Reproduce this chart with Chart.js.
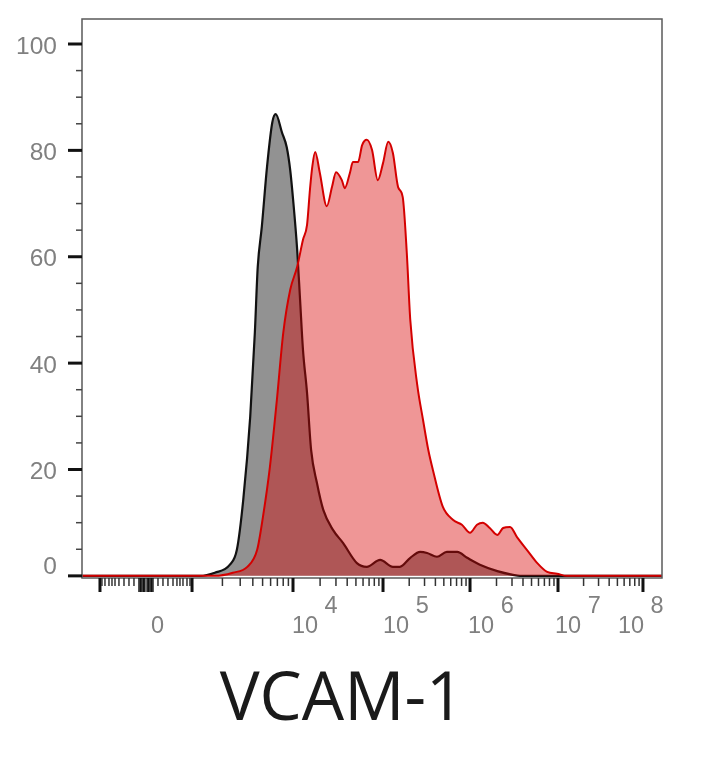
<!DOCTYPE html>
<html lang="en">
<head>
<meta charset="UTF-8">
<title>VCAM-1</title>
<script src="https://cdn.jsdelivr.net/npm/chart.js"></script>
<style>
    html, body { margin: 0; padding: 0; background: #fff; }
</style>
</head>
<body>
<canvas id="histChart" width="711" height="768"></canvas>
<script>
    // x: display channel (0..1000 across the plot), y: % of mode
    const isoX = [0, 203, 229, 255, 267, 278, 290, 298, 303, 310, 319, 328, 334, 345, 353, 359, 364, 371, 376, 381,
        388, 395, 405, 416, 433, 450, 474, 491, 514, 536, 548, 566, 583, 595, 612, 629, 647, 664, 686, 716, 743, 755, 1000];
    const isoY = [0, 0, 0.6, 2.1, 4.9, 14.3, 29.9, 45.7, 58.1, 65.6, 76.9, 85.2, 86.8, 83.3, 80.6, 76.3, 70.7, 61.3, 51.9, 42.5,
        34.4, 23.7, 17.5, 12.4, 8.6, 6.2, 2.4, 1.7, 3.0, 1.7, 1.7, 3.4, 4.5, 4.3, 3.6, 4.5, 4.5, 3.4, 2.1, 0.9, 0.2, 0, 0];

    const vcamX = [0, 229, 260, 285, 302, 312, 324, 336, 347, 359, 371, 381, 388, 393, 397, 402, 410, 422, 431, 438,
        448, 453, 462, 467, 476, 483, 491, 500, 510, 519, 528, 536, 545, 553, 560, 566, 578, 588, 597, 605,
        622, 640, 655, 669, 681, 691, 703, 716, 726, 738, 750, 767, 785, 802, 819, 836, 1000];
    const vcamY = [0, 0, 0.6, 1.7, 4.9, 11.1, 20.5, 33.1, 45.7, 53.8, 58.1, 63.2, 66.0, 72.6, 76.9, 79.7, 75.8, 69.5, 73.1, 75.9,
        74.4, 72.9, 75.8, 77.8, 77.8, 81.0, 82.0, 80.1, 74.4, 77.6, 81.6, 79.5, 73.1, 71.2, 60.7, 48.1, 35.9, 29.3, 23.7, 19.9,
        13.0, 10.5, 9.6, 8.1, 9.6, 10.0, 9.0, 7.7, 9.0, 9.2, 7.3, 4.9, 2.4, 0.75, 0.4, 0, 0];

    // y axis
    const yLabelTicks = [0, 20, 40, 60, 80, 100];
    const yMinorStep = 5;
    const zeroLabelLift = 2.2;   // the "0" sits a bit above the axis in the source

    // biex x axis: -10^3, 0, 10^3, 10^4 ... 10^8 in display channels
    const xDecadeAt = [31.0, 110.3, 189.7, 363.8, 519.0, 669.0, 820.7, 967.2];
    const zeroCluster = [2, 4.5, 7, 9.5, 12];
    const nearZero = [20.7, 29.3, 37.9, 46.6, 53.4, 58.6, 63.8, 70.7, 75.9];
    const xLabelAt = [119, 362, 519, 665.5, 815.5, 924];
    const xLabelText = [['', '0'], ['     4', '10'], ['     5', '10'], ['     6', '10'], ['     7', '10'], ['     8', '10']];

    function xTickMarks() {
        const zero = xDecadeAt[1];
        const marks = [];
        xDecadeAt.forEach((v, i) => { if (i !== 1) marks.push({ v, major: true }); });
        zeroCluster.forEach(d => {
            marks.push({ v: zero - d, cluster: true });
            marks.push({ v: zero + d, cluster: true });
        });
        nearZero.forEach(d => {
            marks.push({ v: zero - d });
            marks.push({ v: zero + d });
        });
        for (let i = 2; i < xDecadeAt.length - 1; i++) {
            const a = xDecadeAt[i], b = xDecadeAt[i + 1];
            for (let k = 2; k <= 9; k++) marks.push({ v: a + (b - a) * Math.log10(k) });
        }
        return marks;
    }

    const axisDecor = {
        id: 'axisDecor',
        afterDraw(chart) {
            const { ctx, chartArea: a } = chart;
            const x = chart.scales.x, y = chart.scales.y;
            ctx.save();
            ctx.strokeStyle = '#5a5a5a';
            ctx.lineWidth = 1.5;
            ctx.strokeRect(a.left, a.top, a.right - a.left, a.bottom - a.top);

            for (let v = 0; v <= 100; v += yMinorStep) {
                const major = v % 20 === 0;
                const py = y.getPixelForValue(v);
                ctx.beginPath();
                ctx.strokeStyle = major ? '#111' : '#444';
                ctx.lineWidth = major ? 3 : 1.5;
                ctx.moveTo(a.left, py);
                ctx.lineTo(a.left - (major ? 14 : 6), py);
                ctx.stroke();
            }

            xTickMarks().forEach(m => {
                const px = x.getPixelForValue(m.v);
                ctx.beginPath();
                ctx.strokeStyle = m.major || m.cluster ? '#111' : '#333';
                ctx.lineWidth = m.major ? 3 : 1.5;
                ctx.moveTo(px, a.bottom);
                ctx.lineTo(px, a.bottom + (m.major || m.cluster ? 14 : 8));
                ctx.stroke();
            });
            ctx.restore();
        }
    };

    // invisible tick marks only used to push the labels away from the axis
    const hiddenGrid = (len) => ({
        display: true,
        drawOnChartArea: false,
        drawTicks: true,
        tickLength: len,
        color: 'rgba(0,0,0,0)',
        tickColor: 'rgba(0,0,0,0)'
    });

    new Chart(document.getElementById('histChart'), {
        type: 'line',
        data: {
            datasets: [
                {
                    label: 'VCAM-1',
                    data: vcamX.map((v, i) => ({ x: v, y: vcamY[i] })),
                    borderColor: '#d40000',
                    backgroundColor: 'rgba(218, 4, 4, 0.42)',
                    borderWidth: 2,
                    fill: 'origin',
                    pointRadius: 0,
                    cubicInterpolationMode: 'monotone'
                },
                {
                    label: 'Isotype',
                    data: isoX.map((v, i) => ({ x: v, y: isoY[i] })),
                    borderColor: '#111',
                    backgroundColor: 'rgb(146, 146, 146)',
                    borderWidth: 2.2,
                    fill: 'origin',
                    pointRadius: 0,
                    cubicInterpolationMode: 'monotone'
                }
            ]
        },
        options: {
            responsive: false,
            animation: false,
            layout: { padding: { left: 0, right: 27, top: 19, bottom: 27 } },
            plugins: {
                legend: { display: false },
                tooltip: { enabled: false },
                title: {
                    display: true,
                    text: 'VCAM-1',
                    position: 'bottom',
                    color: '#1a1a1a',
                    padding: 0,
                    font: { family: 'Open Sans', size: 67, weight: 'normal', lineHeight: 1.2 }
                }
            },
            scales: {
                x: {
                    type: 'linear',
                    min: 0,
                    max: 1000,
                    afterBuildTicks: s => { s.ticks = xLabelAt.map(v => ({ value: v })); },
                    afterFit: s => { s.height = 82.6; },
                    grid: { display: false, drawTicks: false },
                    border: { display: false },
                    ticks: {
                        autoSkip: false,
                        maxRotation: 0,
                        minRotation: 0,
                        align: 'start',
                        padding: 18,
                        color: '#808080',
                        font: { family: 'Liberation Sans', size: 23.5, lineHeight: 0.87 },
                        callback: (val, i) => xLabelText[i]
                    }
                },
                y: {
                    min: -0.4,
                    max: 104.7,
                    afterBuildTicks: s => {
                        s.ticks = yLabelTicks.map(v => ({ value: v === 0 ? v + zeroLabelLift : v }));
                    },
                    afterFit: s => { s.width = 82; },
                    grid: hiddenGrid(25),
                    border: { display: false },
                    ticks: {
                        padding: 0,
                        labelOffset: 3,
                        color: '#808080',
                        font: { family: 'Liberation Sans', size: 24.5 },
                        callback: (val, i) => String(yLabelTicks[i])
                    }
                },
                // empty spacer on the right so the bottom title lines up with the source
                yRight: {
                    position: 'right',
                    display: true,
                    afterFit: s => { s.width = 22; },
                    grid: { display: false },
                    border: { display: false },
                    ticks: { display: false }
                }
            }
        },
        plugins: [axisDecor]
    });
</script>
</body>
</html>
